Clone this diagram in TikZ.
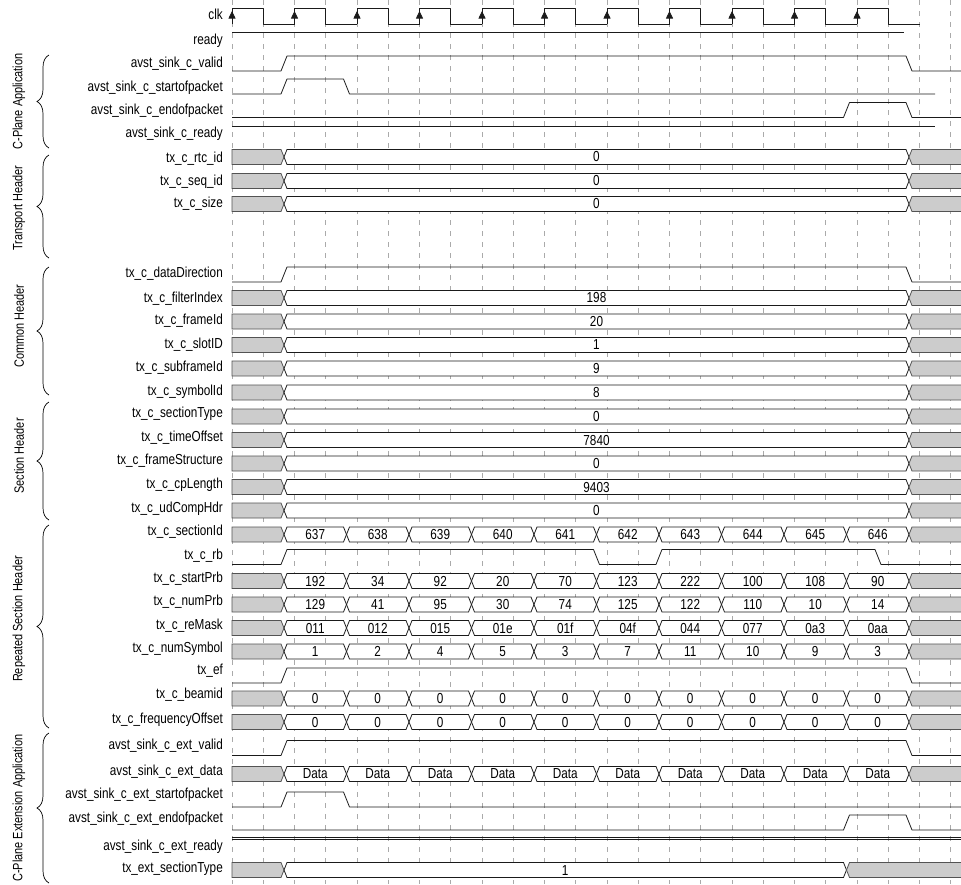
\documentclass[tikz,border=0pt]{standalone}
\usepackage{fontspec}
\setmainfont{Liberation Sans}[FakeStretch=0.81]
\usetikzlibrary{arrows.meta,decorations.pathreplacing}
\definecolor{tdline}{HTML}{1A1A1A}
\definecolor{tdfill}{HTML}{CCCCCC}
\definecolor{tdgrid}{HTML}{AAAAAA}

\tikzset{
  sig/.style={tdline,line width=0.8pt,line join=round},
  busw/.style={fill=white,draw=tdline,line width=0.8pt},
  busx/.style={fill=tdfill,draw=tdline!75,line width=0.8pt},
  griddash/.style={tdgrid,line width=0.6pt,dash pattern=on 5pt off 6pt},
  signame/.style={anchor=mid east,inner sep=0pt},
  valtext/.style={inner sep=0pt},
  grouplbl/.style={rotate=90,inner sep=0pt,font=\fontsize{13.5}{15}\selectfont},
  grpbrace/.style={decorate,decoration={brace,amplitude=12pt},line width=0.7pt}
}

% one bus value between two transitions
\newcommand{\tdseg}[6]{%
  \filldraw[#5] (#2+3,#4-7.5) -- (#3-3,#4-7.5) -- (#3,#4) -- (#3-3,#4+7.5) -- (#2+3,#4+7.5) -- (#2,#4) -- cycle;
  \node[valtext] (#1) at ({(#2+#3)/2},#4) {#6};}
% undefined bus at the start and at the end
\newcommand{\tdleft}[1]{%
  \filldraw[busx] (232,#1-7.5) -- (281,#1-7.5) -- (284,#1) -- (281,#1+7.5) -- (232,#1+7.5) -- cycle;}
\newcommand{\tdright}[2]{%
  \fill[tdfill] (961,#2-7.5) -- (#1+3,#2-7.5) -- (#1,#2) -- (#1+3,#2+7.5) -- (961,#2+7.5) -- cycle;
  \draw[busx,fill=none] (961,#2-7.5) -- (#1+3,#2-7.5) -- (#1,#2) -- (#1+3,#2+7.5) -- (961,#2+7.5);}

\begin{document}
\begin{tikzpicture}[x=1pt,y=-1pt,font=\fontsize{14.5}{16}\selectfont]
  \useasboundingbox (0,0) rectangle (961,884);
  \foreach \j in {0,...,23}
    \draw[griddash] (232+31.25*\j,0) -- (232+31.25*\j,884);

  % clock
  \foreach \k in {0,...,10} {
    \draw[sig] (232+62.5*\k,24) |- (263.25+62.5*\k,8) |- (294.5+62.5*\k,24);
    \draw[sig,-{Triangle[width=7pt,length=7.5pt]}] (232+62.5*\k,24) -- (232+62.5*\k,11);
  }

  % single level signals
  \draw[sig] (232,32) -- (904,32);
  \draw[sig] (232,71) -- (281,71) -- (287,56) -- (906,56) -- (912,71) -- (961,71);
  \draw[sig] (232,94) -- (281,94) -- (287,79) -- (343.5,79) -- (349.5,94) -- (935,94);
  \draw[sig] (232,117.5) -- (843.5,117.5) -- (849.5,102.5) -- (906,102.5) -- (912,117.5) -- (961,117.5);
  \draw[sig] (232,126) -- (935,126);
  \draw[sig] (232,282) -- (281,282) -- (287,267) -- (906,267) -- (912,282) -- (961,282);
  \draw[sig] (232,564.5) -- (281,564.5) -- (287,549.5) -- (593.5,549.5) -- (599.5,564.5) -- (656,564.5)
    -- (662,549.5) -- (875,549.5) -- (881,564.5) -- (961,564.5);
  \draw[sig] (232,683) -- (281,683) -- (287,668) -- (906,668) -- (912,683) -- (961,683);
  \draw[sig] (232,755.5) -- (281,755.5) -- (287,740.5) -- (906,740.5) -- (912,755.5) -- (961,755.5);
  \draw[sig] (232,807) -- (281,807) -- (287,792) -- (343.5,792) -- (349.5,807) -- (961,807);
  \draw[sig] (232,830) -- (843.5,830) -- (849.5,815) -- (906,815) -- (912,830) -- (961,830);
  \draw[sig,line width=0.6pt] (232,837.2) -- (961,837.2);
  \draw[sig,line width=0.6pt] (232,839.4) -- (961,839.4);

  % buses with one value
  \foreach \r/\y/\v in {rtc/157/0,seq/181/0,size/204/0,fidx/298/198,frm/321.5/20,slot/345/1,
      sfrm/368.5/9,sym/392.5/8,stype/416.5/0,toff/440/7840,fstr/463.5/0,cpl/487/9403,udc/510.5/0} {
    \tdleft{\y}
    \tdseg{v\r}{284}{909}{\y}{busw}{\v}
    \tdright{909}{\y}
  }
  \tdleft{870}
  \tdseg{vxst}{284}{846.5}{870}{busw}{1}
  \tdright{846.5}{870}

  % buses with one value per clock
  \foreach \r/\y/\vals in {sid/534.5/{637,638,639,640,641,642,643,644,645,646},
      sprb/581/{192,34,92,20,70,123,222,100,108,90},
      nprb/604.5/{129,41,95,30,74,125,122,110,10,14},
      rem/628/{011,012,015,01e,01f,04f,044,077,0a3,0aa},
      nsym/651.5/{1,2,4,5,3,7,11,10,9,3},
      beam/698.5/{0,0,0,0,0,0,0,0,0,0},
      fofs/722/{0,0,0,0,0,0,0,0,0,0},
      xdat/774/{Data,Data,Data,Data,Data,Data,Data,Data,Data,Data}} {
    \tdleft{\y}
    \foreach \v [count=\k from 0] in \vals
      \tdseg{v\r\k}{284+62.5*\k}{346.5+62.5*\k}{\y}{busw}{\v};
    \tdright{909}{\y}
  }

  % signal names
  \foreach \n/\y/\t in {clk/17/clk,rdy/42/ready,val/65/avst\_sink\_c\_valid,
      sop/88.5/avst\_sink\_c\_startofpacket,eop/112/avst\_sink\_c\_endofpacket,
      crdy/135/avst\_sink\_c\_ready,rtc/159.5/tx\_c\_rtc\_id,seq/183/tx\_c\_seq\_id,
      size/205/tx\_c\_size,ddir/274.5/tx\_c\_dataDirection,fidx/300/tx\_c\_filterIndex,
      frm/321.5/tx\_c\_frameId,slot/346/tx\_c\_slotID,sfrm/368.5/tx\_c\_subframeId,
      sym/392.5/tx\_c\_symbolId,stype/415/tx\_c\_sectionType,toff/438.5/tx\_c\_timeOffset,
      fstr/462/tx\_c\_frameStructure,cpl/485.5/tx\_c\_cpLength,udc/510/tx\_c\_udCompHdr,
      sid/532.5/tx\_c\_sectionId,rb/556.5/tx\_c\_rb,sprb/580/tx\_c\_startPrb,
      nprb/603/tx\_c\_numPrb,rem/626.5/tx\_c\_reMask,nsym/649.5/tx\_c\_numSymbol,
      ef/672/tx\_ef,beam/696/tx\_c\_beamid,fofs/721/tx\_c\_frequencyOffset,
      xval/746.5/avst\_sink\_c\_ext\_valid,xdat/773/avst\_sink\_c\_ext\_data,
      xsop/795.5/avst\_sink\_c\_ext\_startofpacket,xeop/819.5/avst\_sink\_c\_ext\_endofpacket,
      xrdy/848/avst\_sink\_c\_ext\_ready,xst/869.5/tx\_ext\_sectionType}
    \node[signame] (n\n) at (223,\y) {\t};

  % groups
  \draw[grpbrace] (49,148) -- (49,55);
  \node[grouplbl] (gcpa) at (19,101.5) {C-Plane Application};
  \draw[grpbrace] (49,258) -- (49,155);
  \node[grouplbl] (gtrh) at (19,208) {Transport Header};
  \draw[grpbrace] (49,395) -- (49,267);
  \node[grouplbl] (gcmh) at (19,326) {Common Header};
  \draw[grpbrace] (49,520) -- (49,402);
  \node[grouplbl] (gsch) at (19,456) {Section Header};
  \draw[grpbrace] (49,728) -- (49,525);
  \node[grouplbl] (grsh) at (19,619) {Repeated Section Header};
  \draw[grpbrace] (49,883) -- (49,733);
  \node[grouplbl] (gcpx) at (19,808) {C-Plane Extension Application};
\end{tikzpicture}
\end{document}
